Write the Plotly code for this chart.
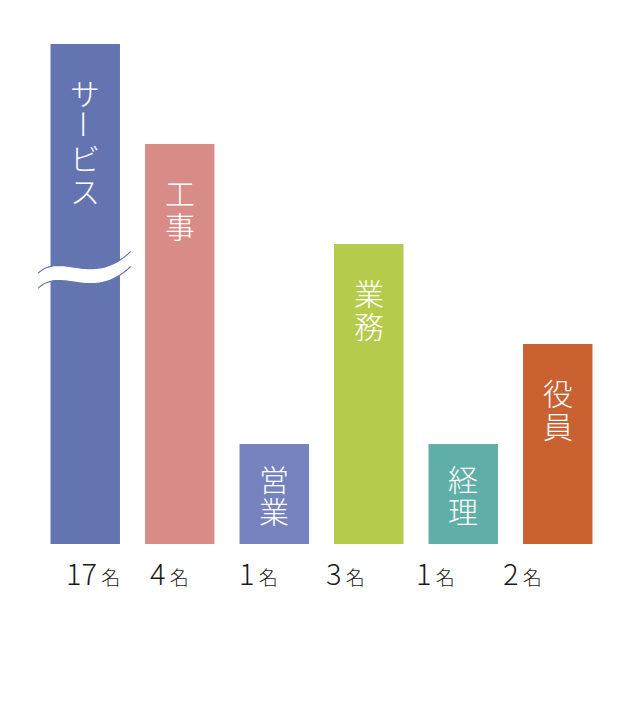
import plotly.graph_objects as go

# ---- data ----
categories = ["サービス", "工事", "営業", "業務", "経理", "役員"]
headcount = [17, 4, 1, 3, 1, 2]
count_labels = ["17", "4", "1", "3", "1", "2"]
unit_label = "名"
colors = ["#6474B1", "#D98C87", "#7683BF", "#B5CB4B", "#5FAFA8", "#C96131"]
axis_cap = 5  # values above this are drawn broken (wavy break mark)

display_vals = [min(v, axis_cap) for v in headcount]

FONT = "Noto Sans CJK JP"
PAGE_OFF = 8  # default body margin of the html page
W, H = 624, 685
ML, MT = 51 - 12.75 - PAGE_OFF, 44 - PAGE_OFF
plot_w = 94.5 * len(categories)
plot_h = 500
MR = W - ML - plot_w
MB = H - MT - plot_h
px_per_cat = plot_w / len(categories)
px_per_unit = plot_h / axis_cap
base_px = MT + plot_h  # baseline in figure pixels

fig = go.Figure()
fig.add_trace(go.Bar(
    x=list(range(len(categories))),
    y=display_vals,
    marker=dict(color=colors, line=dict(width=0)),
    hoverinfo="skip",
))

annotations = []
# vertical category labels inside bars
pitch = 32.5
for i, (cat, dv) in enumerate(zip(categories, display_vals)):
    chars = list(cat)
    bar_px = dv * px_per_unit
    first = min(48, bar_px / 2 - (len(chars) - 1) * pitch / 2)
    for j, ch in enumerate(chars):
        annotations.append(dict(
            x=i, y=dv, xref="x", yref="y", text=ch, showarrow=False,
            xanchor="center", yanchor="middle",
            textangle=90 if ch == "ー" else 0,
            yshift=-(first + j * pitch),
            font=dict(family=FONT, size=30, color="white", weight=300),
        ))

# count labels below the bars
label_xshift = [8, -10, -15.5, -23, -27.5, -35.5]
for i, lab in enumerate(count_labels):
    annotations.append(dict(
        x=i, y=0, xref="x", yref="y",
        text=f"{lab}<span style='font-size:19px'> {unit_label}</span>",
        showarrow=False, xanchor="center", yanchor="middle",
        xshift=label_xshift[i], yshift=-(572 - 544),
        font=dict(family=FONT, size=29, color="#1a1a1a", weight=300),
    ))

# wavy break mark on the broken bar (pixel design relative to the bar)
def to_x(px):
    return (px - (ML + px_per_cat / 2)) / px_per_cat

def to_y(py):
    return (base_px - py) / px_per_unit

def bezier(p0, p1, p2, p3, n=40):
    pts = []
    for k in range(n + 1):
        t = k / n
        a, b, c, d = (1 - t) ** 3, 3 * (1 - t) ** 2 * t, 3 * (1 - t) * t ** 2, t ** 3
        pts.append((a * p0[0] + b * p1[0] + c * p2[0] + d * p3[0],
                    a * p0[1] + b * p1[1] + c * p2[1] + d * p3[1]))
    return pts

broken = [i for i, v in enumerate(headcount) if v > axis_cap]
shapes = []
for bi in broken:
    cx = ML + px_per_cat * (bi + 0.5)
    cy = base_px - 500 + 237  # wave centre below the broken bar top
    center = bezier((cx - 47.5, cy), (cx - 23.5, cy - 23), (cx + 6.5, cy + 15), (cx + 45.5, cy - 22))
    half = 7.5
    upper = [(x, y - half) for x, y in center]
    lower = [(x, y + half) for x, y in center]

    def path(pts):
        return "M " + " L ".join(f"{to_x(x):.5f},{to_y(y):.5f}" for x, y in pts)

    shapes.append(dict(type="path", xref="x", yref="y", path=path(upper + lower[::-1]) + " Z",
                       fillcolor="white", line=dict(width=0), layer="above"))
    for pts in (upper, lower):
        shapes.append(dict(type="path", xref="x", yref="y", path=path(pts),
                           line=dict(color=colors[bi], width=1.2), layer="above"))

fig.update_layout(
    width=W, height=H,
    margin=dict(l=ML, r=MR, t=MT, b=MB),
    paper_bgcolor="white", plot_bgcolor="white",
    bargap=0.265,
    showlegend=False,
    xaxis=dict(range=[-0.5, len(categories) - 0.5], visible=False, fixedrange=True),
    yaxis=dict(range=[0, axis_cap], visible=False, fixedrange=True),
    annotations=annotations,
    shapes=shapes,
)

fig.write_html("out.html")
